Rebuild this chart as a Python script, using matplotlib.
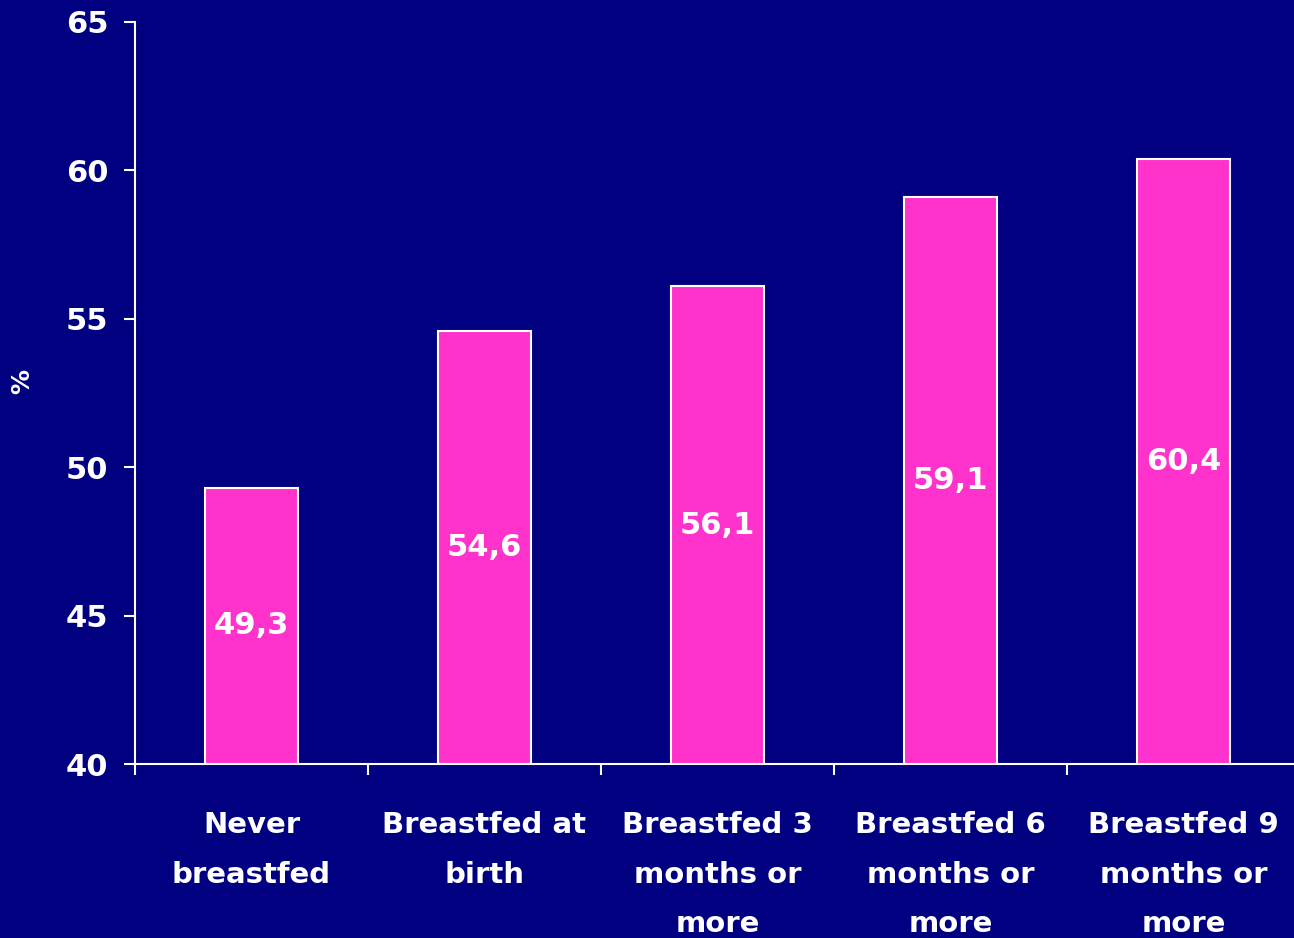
import matplotlib
matplotlib.use("Agg")
import matplotlib.pyplot as plt
import numpy as np

# Share of children (%) by breastfeeding duration
categories = ["Never\nbreastfed", "Breastfed at\nbirth", "Breastfed 3\nmonths or\nmore",
              "Breastfed 6\nmonths or\nmore", "Breastfed 9\nmonths or\nmore"]
values = [49.3, 54.6, 56.1, 59.1, 60.4]
value_labels = ["49,3", "54,6", "56,1", "59,1", "60,4"]
yticks = [40, 45, 50, 55, 60, 65]

navy = "#000080"
pink = "#FF33CC"
plt.rcParams["font.family"] = ["DejaVu Sans"]
plt.rcParams["font.weight"] = "bold"

fig = plt.figure(figsize=(12.94, 9.38), dpi=100, facecolor=navy)
ax = fig.add_axes([135 / 1294, 1 - 764 / 938, 1165 / 1294, 742 / 938], facecolor=navy)

x = np.arange(len(values))
ax.bar(x, np.array(values) - 40, bottom=40, width=0.4, color=pink,
       edgecolor="white", linewidth=1.5, zorder=3)

for xi, v, lab in zip(x, values, value_labels):
    ax.text(xi, (40 + v) / 2, lab, ha="center", va="center", color="white",
            fontsize=22, fontweight="bold", zorder=4)

ax.set_xlim(-0.5, len(values) - 0.5)
ax.set_ylim(40, 65)
ax.set_yticks(yticks)
ax.set_yticklabels([str(t) for t in yticks], fontsize=22, fontweight="bold", color="white")
ax.tick_params(axis="y", direction="out", length=8, width=1.5, color="white", pad=11)

ax.set_xticks(x)
ax.set_xticklabels(categories, fontsize=21, fontweight="bold", color="white", linespacing=1.98)
ax.tick_params(axis="x", which="major", length=0, pad=34)
ax.set_xticks(np.arange(len(values)) - 0.5, minor=True)
ax.tick_params(axis="x", which="minor", direction="out", length=8, width=1.5, color="white")

for side in ["top", "right"]:
    ax.spines[side].set_visible(False)
for side in ["left", "bottom"]:
    ax.spines[side].set_color("white")
    ax.spines[side].set_linewidth(1.5)

ax.set_ylabel("%", fontsize=18, fontweight="bold", color="white")
ax.yaxis.set_label_coords(-101 / 1165, 0.515)

fig.savefig("out.png", dpi=100, facecolor=navy)
